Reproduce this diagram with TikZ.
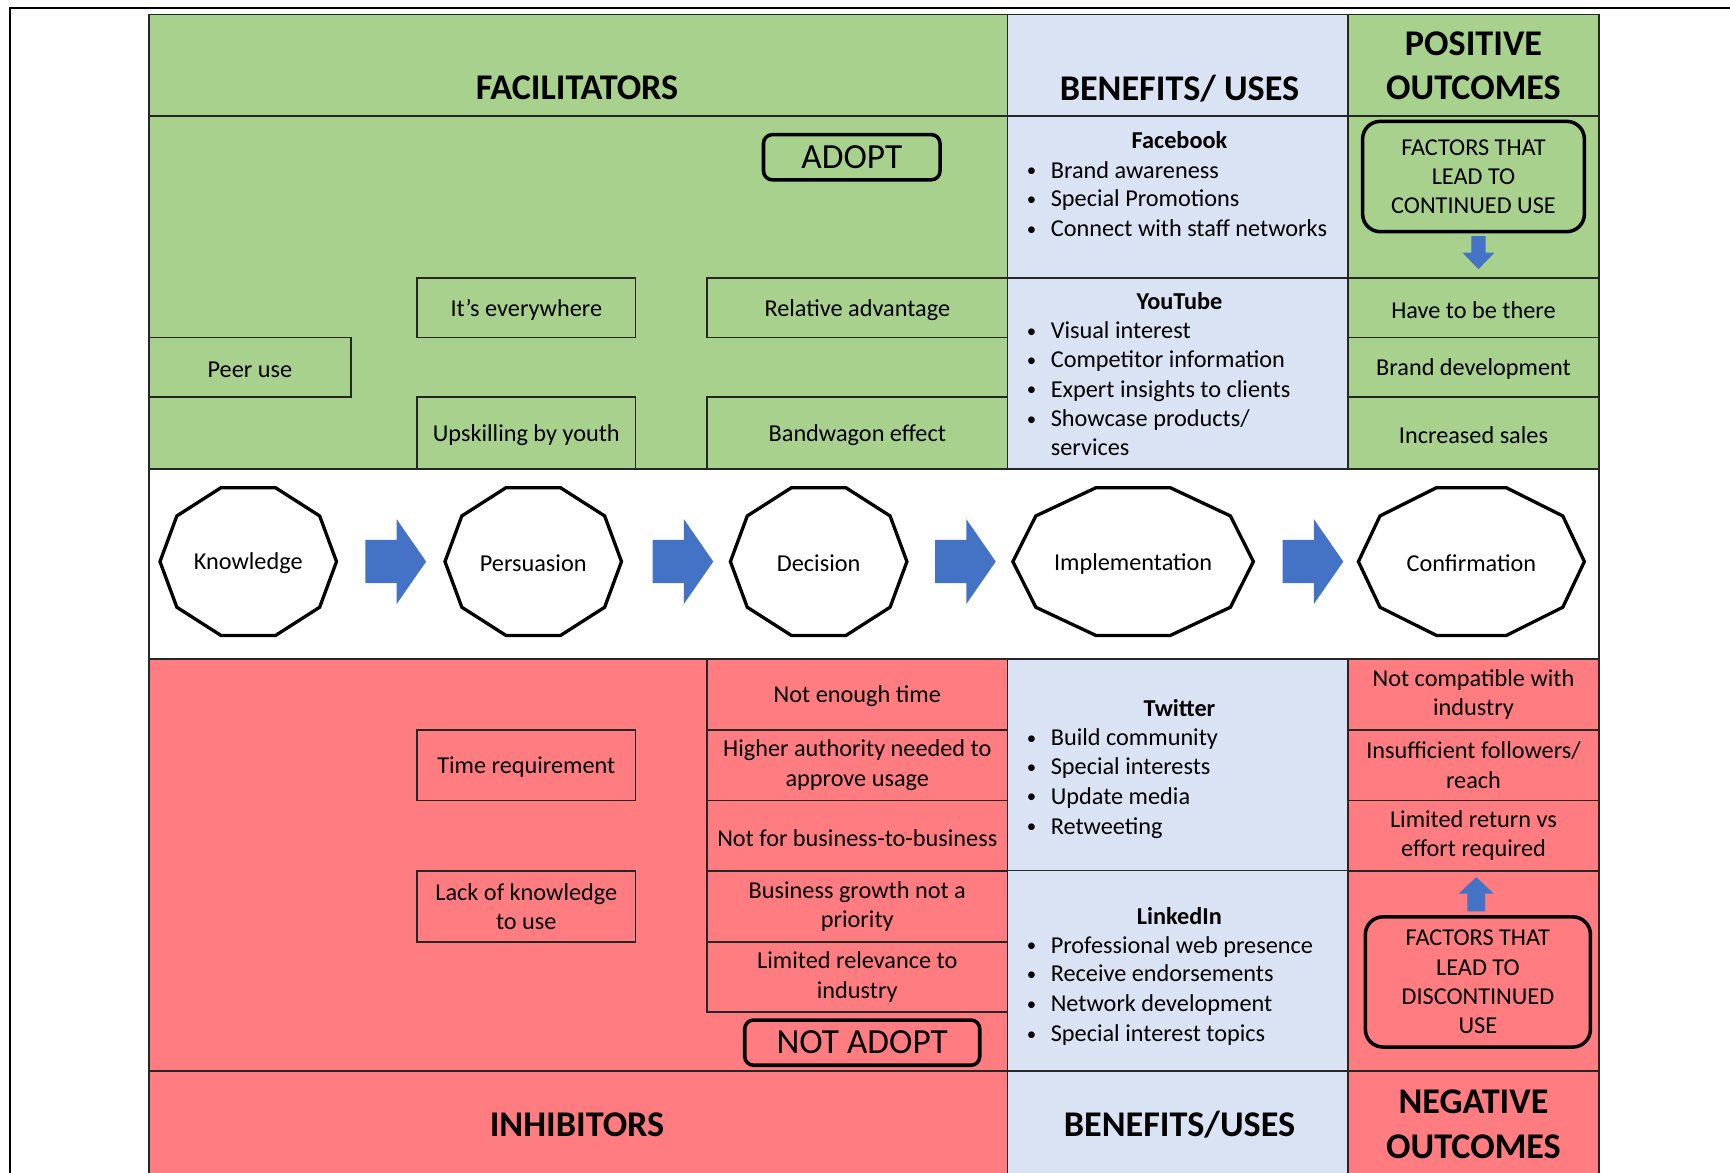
\documentclass[tikz,border=0pt]{standalone}
\usepackage{fontspec}
\setmainfont{Carlito}
\newcommand\bodyf{\fontsize{11pt}{13.25pt}\selectfont}
\newcommand\hdrf{\fontsize{16.4pt}{20pt}\selectfont\bfseries}
\newcommand\bigf{\fontsize{16pt}{19pt}\selectfont}
\newcommand\bu{\makebox[11.5pt][l]{\hspace{0.6pt}\raisebox{0.6pt}{\fontsize{8.5pt}{9pt}\selectfont\textbullet}}}
\definecolor{grn}{HTML}{A9D18E}
\definecolor{rd}{HTML}{FF7C80}
\definecolor{lbl}{HTML}{DAE3F3}
\definecolor{arr}{HTML}{4472C4}
\definecolor{ln}{HTML}{262626}
\newcommand\decag[4]{\draw[deca, shift={(#1,#2)}] (0:#3pt and #4pt) \foreach \a in {36,72,...,324}{ -- (\a:#3pt and #4pt)} -- cycle;}
\newcommand\rarrow[1]{\fill[blk, shift={(#1,509)}] (0,-19.6) -- (28.3,-19.6) -- (28.3,-38.5) -- (55,0) -- (28.3,38.5) -- (28.3,19.6) -- (0,19.6) -- cycle;}
\begin{document}
\begin{tikzpicture}[x=0.5pt,y=-0.5pt,
  grid/.style={draw=ln, line width=0.75pt},
  cell/.style={draw=ln, line width=0.75pt, inner sep=0pt, align=center, font=\bodyf, execute at begin node=\rule{0pt}{9.5pt}},
  hdr/.style={inner sep=0pt, align=center, font=\hdrf},
  rbox/.style={draw=black, line width=1.6pt, rounded corners=8pt, inner sep=0pt, align=center, font=\bodyf},
  sbox/.style={draw=black, line width=1.6pt, rounded corners=4pt, inner sep=0pt, font=\bigf},
  deca/.style={draw=black, line width=1.5pt, fill=white},
  blk/.style={fill=arr},
  bul/.style={anchor=base west, inner sep=0pt, font=\bodyf},
  ttl/.style={anchor=base, inner sep=0pt, font=\bodyf\bfseries},
  stage/.style={inner sep=0pt, font=\bodyf, execute at begin node=\rule{0pt}{9.5pt}}
]
\useasboundingbox (0,0) rectangle (1568,1063);
\fill[white] (0,0) rectangle (1568,1063);
% backgrounds
\fill[grn] (135,13) rectangle (913,425);
\fill[lbl] (913,13) rectangle (1222,425);
\fill[grn] (1222,13) rectangle (1449,425);
\fill[rd] (135,597) rectangle (913,1063);
\fill[lbl] (913,597) rectangle (1222,1063);
\fill[rd] (1222,597) rectangle (1449,1063);
% outer frame
\draw[line width=1pt] (9,1063) -- (9,7) -- (1568,7);
% grid
\draw[grid] (135,1063) -- (135,13) -- (1449,13) -- (1449,1063);
\draw[grid] (135,105) -- (1449,105);
\draw[grid] (135,425) -- (1449,425);
\draw[grid] (135,597) -- (1449,597);
\draw[grid] (135,971) -- (1449,971);
\draw[grid] (913,13) -- (913,425);
\draw[grid] (1222,13) -- (1222,425);
\draw[grid] (913,597) -- (913,1063);
\draw[grid] (1222,597) -- (1222,1063);
\draw[grid] (913,252) -- (1222,252);
\draw[grid] (913,789) -- (1222,789);
% headers
\node[hdr] (facil) at (523,80) {FACILITATORS};
\node[hdr] (ben1) at (1069,80) {BENEFITS/ USES};
\node[hdr] (pos) at (1335.5,60) {POSITIVE\\OUTCOMES};
\node[hdr] (inhib) at (523,1019) {INHIBITORS};
\node[hdr] (ben2) at (1069,1019) {BENEFITS/USES};
\node[hdr] (neg) at (1335.5,1019) {NEGATIVE\\OUTCOMES};
% facilitators
\node[sbox, minimum width=80pt, minimum height=20.5pt] (adopt) at (772,142.5) {ADOPT};
\node[cell, minimum width=99pt, minimum height=27pt] (itsev) at (477,279) {It’s everywhere};
\node[cell, minimum width=136pt, minimum height=27pt] (reladv) at (777,279) {Relative advantage};
\node[cell, minimum width=91.5pt, minimum height=27pt] (peer) at (226.5,333) {Peer use};
\node[cell, minimum width=99pt, minimum height=32.5pt] (upsk) at (477,392.5) {Upskilling by youth};
\node[cell, minimum width=136pt, minimum height=32.5pt] (bandw) at (777,392.5) {Bandwagon effect};
% benefits top
\node[ttl] (fbt) at (1069,135) {Facebook};
\node[bul] (fb1) at (929,161.5) {\bu Brand awareness};
\node[bul] (fb2) at (929,187.5) {\bu Special Promotions};
\node[bul] (fb3) at (929,214.5) {\bu Connect with staff networks};
\node[ttl] (ytt) at (1069,280.5) {YouTube};
\node[bul] (yt1) at (929,307) {\bu Visual interest};
\node[bul] (yt2) at (929,333.5) {\bu Competitor information};
\node[bul] (yt3) at (929,360) {\bu Expert insights to clients};
\node[bul] (yt4) at (929,386.5) {\bu Showcase products/};
\node[bul] (yt5) at (952,413) {services};
% positive outcomes
\node[rbox, minimum width=100.5pt, minimum height=50pt] (cont) at (1335.5,160) {FACTORS THAT\\LEAD TO\\CONTINUED USE};
\fill[blk, shift={(1340,0)}] (-6.5,214) -- (6.5,214) -- (6.5,229) -- (14.5,229) -- (0,244) -- (-14.5,229) -- (-6.5,229) -- cycle;
\node[cell, minimum width=113.5pt, minimum height=27pt] (have) at (1335.5,279) {Have to be there};
\node[cell, minimum width=113.5pt, minimum height=27pt] (brand) at (1335.5,333) {Brand development};
\node[cell, minimum width=113.5pt, minimum height=32.5pt] (incr) at (1335.5,392.5) {Increased sales};
% stages
\decag{225}{509}{40}{35.2}
\decag{483.3}{509}{40}{35.2}
\decag{742}{509}{40}{35.2}
\decag{1027}{509}{54.5}{35.2}
\decag{1333.6}{509}{51.2}{35.2}
\node[stage] (know) at (225,509) {Knowledge};
\node[stage] (pers) at (483.3,509) {Persuasion};
\node[stage] (deci) at (742,509) {Decision};
\node[stage] (impl) at (1027,509) {Implementation};
\node[stage] (conf) at (1333.6,509) {Confirmation};
\rarrow{331.2}
\rarrow{591.5}
\rarrow{847.5}
\rarrow{1162.5}
% inhibitors
\node[cell, minimum width=99pt, minimum height=32pt] (timereq) at (477,693.5) {Time requirement};
\node[cell, minimum width=99pt, minimum height=32pt] (lackk) at (477,821.5) {Lack of knowledge\\to use};
\node[cell, minimum width=136pt, minimum height=32pt] (notime) at (777,629.5) {Not enough time};
\node[cell, minimum width=136pt, minimum height=32pt] (highauth) at (777,693.5) {Higher authority needed to\\approve usage};
\node[cell, minimum width=136pt, minimum height=32pt] (notbb) at (777,757.5) {Not for business-to-business};
\node[cell, minimum width=136pt, minimum height=32pt] (bizgr) at (777,821.5) {Business growth not a\\priority};
\node[cell, minimum width=136pt, minimum height=32pt] (limrel) at (777,885.5) {Limited relevance to\\industry};
\node[sbox, minimum width=106.5pt, minimum height=20.5pt] (notadopt) at (781.5,945) {NOT ADOPT};
% benefits bottom
\node[ttl] (twt) at (1069,649.5) {Twitter};
\node[bul] (tw1) at (929,676) {\bu Build community};
\node[bul] (tw2) at (929,702) {\bu Special interests};
\node[bul] (tw3) at (929,729) {\bu Update media};
\node[bul] (tw4) at (929,756) {\bu Retweeting};
\node[ttl] (lit) at (1069,837.5) {LinkedIn};
\node[bul] (li1) at (929,864) {\bu Professional web presence};
\node[bul] (li2) at (929,890) {\bu Receive endorsements};
\node[bul] (li3) at (929,917) {\bu Network development};
\node[bul] (li4) at (929,944) {\bu Special interest topics};
% negative outcomes
\node[cell, minimum width=113.5pt, minimum height=32pt] (notcomp) at (1335.5,629.5) {Not compatible with\\industry};
\node[cell, minimum width=113.5pt, minimum height=32pt] (insuff) at (1335.5,693.5) {Insufficient followers/\\reach};
\node[cell, minimum width=113.5pt, minimum height=32pt] (limret) at (1335.5,757.5) {Limited return vs\\effort required};
\fill[blk, shift={(1338,0)}] (-8,826) -- (8,826) -- (8,810) -- (16,810) -- (0,795) -- (-16,810) -- (-8,810) -- cycle;
\node[rbox, minimum width=102pt, minimum height=59pt] (discont) at (1339.5,890) {FACTORS THAT\\LEAD TO\\DISCONTINUED\\USE};
\end{tikzpicture}
\end{document}
